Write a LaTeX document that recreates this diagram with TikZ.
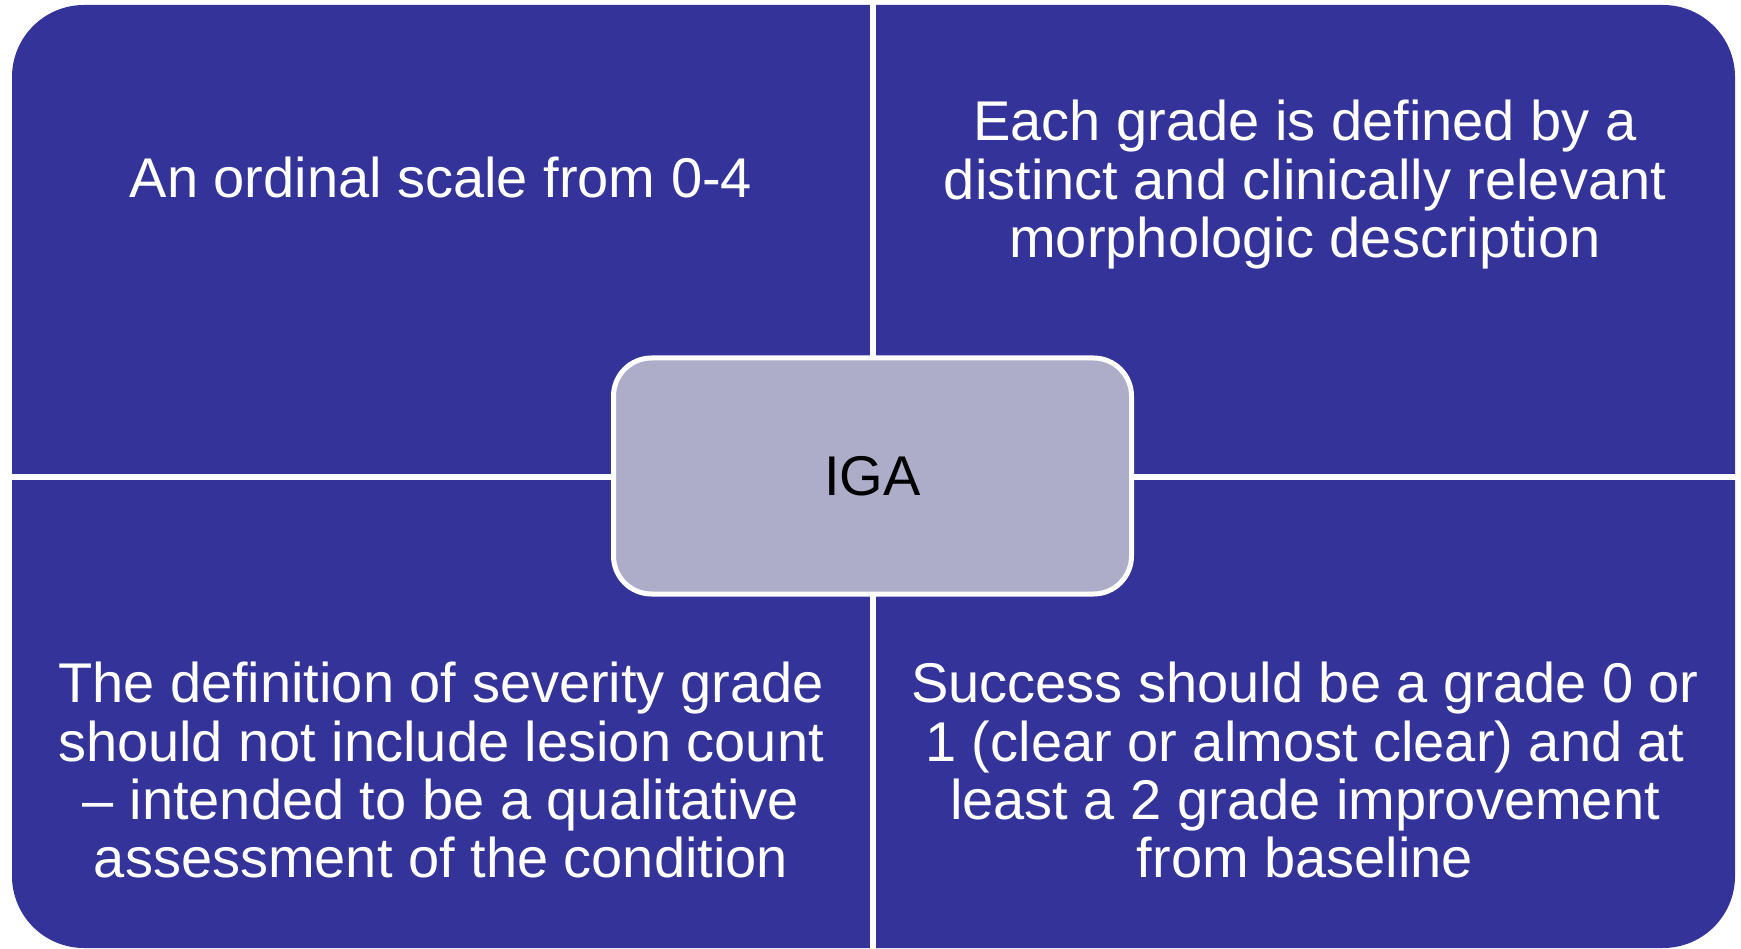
\documentclass[tikz,border=0pt]{standalone}
\usepackage{fontspec}
\setmainfont{Liberation Sans}
\usetikzlibrary{positioning}
\definecolor{quadblue}{RGB}{51,51,153}
\definecolor{hubgrey}{RGB}{173,173,201}

\begin{document}
\begin{tikzpicture}[
            x=1pt, y=-1pt,
            gap/.style={draw=white, line width=6pt},
            quadtext/.style={anchor=north, inner sep=0pt, align=center, text=white, font=\fontsize{56}{58.3}\selectfont},
            hub/.style={draw=white, line width=5pt, fill=hubgrey, rounded corners=38pt, minimum width=518pt, minimum height=236pt, font=\fontsize{56}{58.3}\selectfont}
        ]
            % Фон и рамка
            \fill[white] (0,0) rectangle (1741,949);
            \useasboundingbox (0,0) rectangle (1741,949);
            \fill[quadblue, rounded corners=72pt] (12,5) rectangle (1735,948);

            % Разделители между четвертями
            \coordinate (gtop) at (873,0);
            \coordinate (gbot) at (873,949);
            \coordinate (glft) at (0,477);
            \coordinate (grgt) at (1741,477);
            \draw[gap] (gtop) -- (gbot);
            \draw[gap] (glft) -- (grgt);

            % Тексты четвертей
            \node[quadtext] (ordinal) at (441,157) {An ordinal scale from 0-4};
            \node[quadtext] (grade) at (1305,100) {Each grade is defined by a\\distinct and clinically relevant\\morphologic description};
            \node[quadtext] (count) at (441,662) {The definition of severity grade\\should not include lesion count\\– intended to be a qualitative\\assessment of the condition};
            \node[quadtext] (success) at (1305,662) {Success should be a grade 0 or\\1 (clear or almost clear) and at\\least a 2 grade improvement\\from baseline};

            % Центр
            \node[hub] (iga) at (872.5,476) {IGA};
        \end{tikzpicture}
\end{document}
